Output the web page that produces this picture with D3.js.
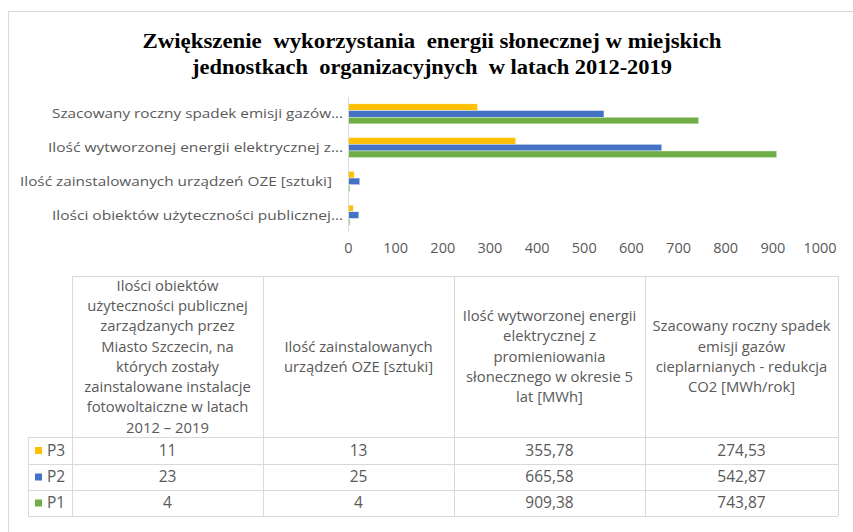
<!DOCTYPE html>
<html><head><meta charset="utf-8">
<script src="https://cdn.jsdelivr.net/npm/d3@7"></script>
<style>html,body{margin:0;padding:0;background:#fff;}svg{display:block;}</style>
</head><body>
<svg id="c" width="853" height="532"></svg>
<script>
// ---------- DATA ----------
const titleLines = ["Zwiększenie  wykorzystania  energii słonecznej w miejskich", "jednostkach  organizacyjnych  w latach 2012-2019"];
const axisLabels = [
  "Ilości obiektów użyteczności publicznej…",
  "Ilość zainstalowanych urządzeń OZE [sztuki]",
  "Ilość wytworzonej energii elektrycznej z…",
  "Szacowany roczny spadek emisji gazów…"
];
const headerLines = [
  ["Ilości obiektów", "użyteczności publicznej", "zarządzanych przez", "Miasto Szczecin, na", "których zostały", "zainstalowane instalacje", "fotowoltaiczne w latach", "2012 – 2019"],
  ["Ilość zainstalowanych", "urządzeń OZE [sztuki]"],
  ["Ilość wytworzonej energii", "elektrycznej z", "promieniowania", "słonecznego w okresie 5", "lat [MWh]"],
  ["Szacowany roczny spadek", "emisji gazów", "cieplarnianych - redukcja", "CO2 [MWh/rok]"]
];
const seriesNames = ["P3", "P2", "P1"];
const P3 = [11, 13, 355.78, 274.53];
const P2 = [23, 25, 665.58, 542.87];
const P1 = [4, 4, 909.38, 743.87];
const seriesValues = [P3, P2, P1];
const seriesColors = ["#FFC000", "#4472C4", "#70AD47"];
const xTicks = [0, 100, 200, 300, 400, 500, 600, 700, 800, 900, 1000];

// ---------- DRAW ----------
const svg = d3.select("#c");
const font = "'Open Sans', sans-serif";

svg.append("rect").attr("x", 8.5).attr("y", 11.5).attr("width", 900).attr("height", 600)
  .attr("fill", "#fff").attr("stroke", "#d9d9d9").attr("stroke-width", 1);

// title
const titleW = [579, 480];
svg.append("g").selectAll("text").data(titleLines).join("text")
  .attr("x", 432).attr("y", (d, i) => 48 + i * 25.5)
  .attr("text-anchor", "middle")
  .attr("font-family", "'Liberation Serif', 'Times New Roman', serif")
  .attr("font-weight", "bold").attr("font-size", 22).attr("fill", "#000")
  .attr("textLength", (d, i) => titleW[i]).attr("lengthAdjust", "spacingAndGlyphs")
  .style("white-space", "pre")
  .text(d => d);

// scales
const x = d3.scaleLinear().domain([0, 1000]).range([348, 819.5]);
const catIdx = [3, 2, 1, 0];
const y = d3.scaleBand().domain(catIdx).range([97, 232]).paddingInner(0.407).paddingOuter(0.2035);
const ys = d3.scaleBand().domain(seriesNames).range([0, y.bandwidth()]);

// bars
const g = svg.append("g");
seriesNames.forEach((s, si) => {
  g.append("g").selectAll("rect").data(seriesValues[si]).join("rect")
    .attr("x", x(0))
    .attr("y", (d, i) => y(i) + ys(s))
    .attr("width", d => x(d) - x(0))
    .attr("height", ys.bandwidth())
    .attr("fill", seriesColors[si])
    .attr("stroke", "#fff").attr("stroke-width", 0.4);
});

// vertical axis line
svg.append("line").attr("x1", x(0) + 0.5).attr("x2", x(0) + 0.5).attr("y1", 97).attr("y2", 232)
  .attr("stroke", "#d9d9d9").attr("stroke-width", 1);

// category labels
const labelWidths = [291, 312, 295, 291];
svg.append("g").selectAll("text").data(axisLabels).join("text")
  .attr("x", (d, i) => i === 1 ? 332 : 343)
  .attr("y", (d, i) => y(i) + y.bandwidth() / 2)
  .attr("dy", "0.35em")
  .attr("text-anchor", "end")
  .attr("font-family", font).attr("font-size", 13).attr("fill", "#595959")
  .attr("textLength", (d, i) => labelWidths[i]).attr("lengthAdjust", "spacingAndGlyphs")
  .text(d => d);

// x axis
const xAxis = d3.axisBottom(x).tickValues(xTicks).tickSize(0).tickPadding(0).tickFormat(d3.format("d"));
const ax = svg.append("g").attr("transform", "translate(0,243)").call(xAxis);
ax.select(".domain").remove();
ax.selectAll("text").attr("font-family", font).attr("font-size", 14.5).attr("fill", "#595959").attr("dy", "0.71em");

// ---------- TABLE ----------
const colX = [28, 72, 263, 454, 645, 838];
const rowY = [276, 437, 464, 490, 516];
const tc = "#d9d9d9";
const tg = svg.append("g").attr("shape-rendering", "crispEdges");
tg.append("line").attr("x1", colX[1]).attr("x2", colX[5]).attr("y1", rowY[0] + 0.5).attr("y2", rowY[0] + 0.5).attr("stroke", tc);
rowY.slice(1).forEach(yy => {
  tg.append("line").attr("x1", colX[0]).attr("x2", colX[5]).attr("y1", yy + 0.5).attr("y2", yy + 0.5).attr("stroke", tc);
});
colX.forEach((xx, i) => {
  tg.append("line").attr("x1", xx + 0.5).attr("x2", xx + 0.5)
    .attr("y1", i === 0 ? rowY[1] : rowY[0]).attr("y2", rowY[4]).attr("stroke", tc);
});

// header text
headerLines.forEach((lines, ci) => {
  const cx = (colX[ci + 1] + colX[ci + 2]) / 2;
  const lh = 20.3;
  const midY = (rowY[0] + rowY[1]) / 2;
  const y0 = midY - (lines.length - 1) * lh / 2;
  svg.append("g").selectAll("text").data(lines).join("text")
    .attr("x", cx).attr("y", (d, i) => y0 + i * lh).attr("dy", "0.35em")
    .attr("text-anchor", "middle")
    .attr("font-family", font).attr("font-size", 14.8).attr("fill", "#595959")
    .text(d => d);
});

// value rows
const fmt = v => Number.isInteger(v) ? String(v) : v.toFixed(2).replace(".", ",");
seriesNames.forEach((s, ri) => {
  const cy = (rowY[ri + 1] + rowY[ri + 2]) / 2;
  svg.append("rect").attr("x", 35).attr("y", cy - 3.5).attr("width", 7).attr("height", 7).attr("fill", seriesColors[ri]);
  svg.append("text").attr("x", 47).attr("y", cy).attr("dy", "0.35em")
    .attr("font-family", font).attr("font-size", 15.5).attr("fill", "#595959").text(s);
  svg.append("g").selectAll("text").data(seriesValues[ri]).join("text")
    .attr("x", (d, ci) => (colX[ci + 1] + colX[ci + 2]) / 2)
    .attr("y", cy).attr("dy", "0.35em").attr("text-anchor", "middle")
    .attr("font-family", font).attr("font-size", 15.5).attr("fill", "#595959")
    .text(d => fmt(d));
});
</script>
</body></html>
